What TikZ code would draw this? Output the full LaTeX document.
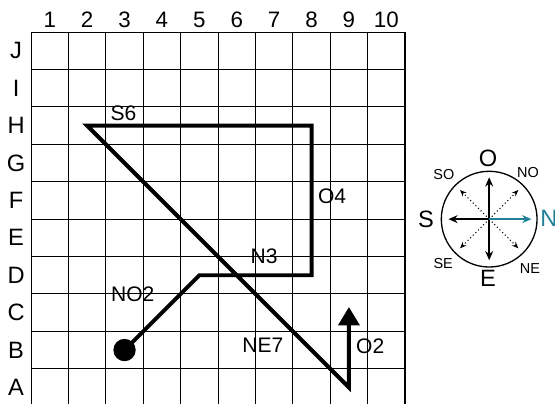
\documentclass[tikz,border=0pt]{standalone}
\usepackage{fontspec}
\setmainfont{Liberation Sans}
\usepackage{xcolor}
\usetikzlibrary{positioning, arrows.meta}
\definecolor{compassblue}{RGB}{32,128,150}

\begin{document}
\begin{tikzpicture}[
  route/.style={line width=3pt},
  biglabel/.style={font=\fontsize{16}{18}\selectfont},
  collabel/.style={font=\fontsize{17}{19}\selectfont},
  rowlabel/.style={font=\fontsize{18}{20}\selectfont},
  smalllabel/.style={font=\fontsize{11}{13}\selectfont},
  mainarrow/.style={line width=1.3pt, -{Stealth[length=7pt,width=6pt]}},
  diagarrow/.style={line width=0.8pt, dotted, -{Stealth[length=5pt,width=4pt]}}
]
\useasboundingbox (-0.83,0.08) rectangle (14.01,10.86);

% Grid
\draw[line width=0.8pt] (0,0) grid (10,10);

% Column numbers and row letters
\foreach \n in {1,...,10}
  \node[collabel] (col\n) at (\n-0.5,10.33) {\n};
\foreach \l [count=\i from 0] in {A,B,C,D,E,F,G,H,I,J}
  \node[rowlabel] (row\l) at (-0.4,\i+0.5) {\l};

% Route
\node[circle, fill=black, minimum size=17pt, inner sep=0pt] (start) at (2.5,1.5) {};
\coordinate (p1) at (4.5,3.5);
\coordinate (p2) at (7.5,3.5);
\coordinate (p3) at (7.5,7.5);
\coordinate (p4) at (1.5,7.5);
\coordinate (p5) at (8.5,0.5);
\coordinate (p6) at (8.5,2.65);
\draw[route, -{Triangle[width=16pt,length=14pt]}] (start.center) -- (p1) -- (p2) -- (p3) -- (p4) -- (p5) -- (p6);

% Route labels
\node[biglabel] (lblNO2) at (2.72,3.0) {NO2};
\node[biglabel] (lblN3) at (6.23,4.0) {N3};
\node[biglabel] (lblO4) at (8.05,5.6) {O4};
\node[biglabel] (lblS6) at (2.47,7.82) {S6};
\node[biglabel] (lblNE7) at (6.2,1.62) {NE7};
\node[biglabel] (lblO2) at (9.07,1.6) {O2};

% Compass
\coordinate (cc) at (12.25,5);
\draw[line width=1pt] (cc) circle (1.28);
\coordinate (tipO) at (12.25,6.12);
\coordinate (tipE) at (12.25,3.9);
\coordinate (tipS) at (11.16,5);
\coordinate (tipN) at (13.38,5);
\coordinate (tipSO) at (11.47,5.78);
\coordinate (tipNO) at (13.03,5.78);
\coordinate (tipSE) at (11.47,4.22);
\coordinate (tipNE) at (13.03,4.22);
\draw[diagarrow] (cc) -- (tipSO);
\draw[diagarrow] (cc) -- (tipNO);
\draw[diagarrow] (cc) -- (tipSE);
\draw[diagarrow] (cc) -- (tipNE);
\draw[mainarrow] (cc) -- (tipO);
\draw[mainarrow] (cc) -- (tipE);
\draw[mainarrow] (cc) -- (tipS);
\draw[mainarrow, compassblue] (cc) -- (tipN);

\node[font=\fontsize{18}{20}\selectfont] (dirO) at (12.22,6.63) {O};
\node[font=\fontsize{18}{20}\selectfont] (dirE) at (12.22,3.42) {E};
\node[font=\fontsize{18}{20}\selectfont] (dirS) at (10.56,4.99) {S};
\node[font=\fontsize{18}{20}\selectfont, text=compassblue] (dirN) at (13.85,5.03) {N};
\node[smalllabel] (dirSO) at (11.04,6.18) {SO};
\node[smalllabel] (dirNO) at (13.29,6.26) {NO};
\node[smalllabel] (dirSE) at (11.02,3.82) {SE};
\node[smalllabel] (dirNE) at (13.34,3.69) {NE};

\end{tikzpicture}
\end{document}
